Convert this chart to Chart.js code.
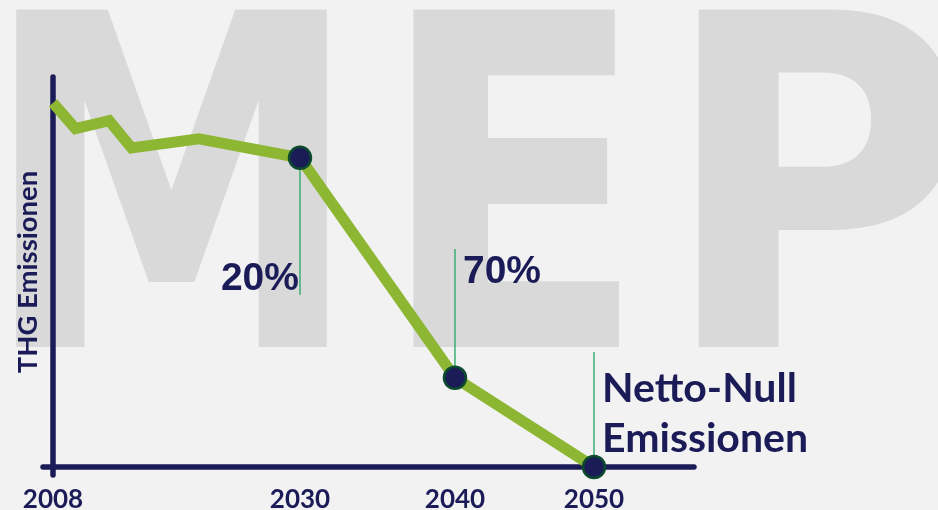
<!DOCTYPE html>
<html>
<head>
<meta charset="utf-8">
<script src="https://cdn.jsdelivr.net/npm/chart.js@4.4.0/dist/chart.umd.min.js"></script>
<style>
  html, body { margin: 0; padding: 0; background: #f2f2f2; }
</style>
</head>
<body>
<canvas id="thgChart" width="938" height="510"></canvas>
<script>
// DATA
const years = [2008, 2010, 2013, 2015, 2021, 2030, 2040, 2050];
const emissions = [100, 92.9, 95.1, 87.6, 90.1, 84.9, 24.5, 0];
const tickYears = [2008, 2030, 2040, 2050];
const markerYears = [2030, 2040, 2050];
const markerValues = [84.9, 24.5, 0];
const noteEnds = [47.3, 59.9, 31.6];
const noteTexts = [['20%'], ['70%'], ['Netto-Null', 'Emissionen']];

const navy = '#1b1c57';
const green = '#8db733';

// x-Achse ist im Original nicht linear -> Stueckweise Skala
class StueckScale extends Chart.LinearScale {
    getPixelForValue(v) {
        const yrs = [2008, 2030, 2040, 2050, 2057.4];
        const fr = [0, 0.3853, 0.6271, 0.8440, 1];
        let i = 0;
        while (i < yrs.length - 2 && v > yrs[i + 1]) i++;
        const f = fr[i] + (v - yrs[i]) / (yrs[i + 1] - yrs[i]) * (fr[i + 1] - fr[i]);
        return this.left + f * this.width;
    }
    getValueForPixel(p) {
        const yrs = [2008, 2030, 2040, 2050, 2057.4];
        const fr = [0, 0.3853, 0.6271, 0.8440, 1];
        const f = (p - this.left) / this.width;
        let i = 0;
        while (i < fr.length - 2 && f > fr[i + 1]) i++;
        return yrs[i] + (f - fr[i]) / (fr[i + 1] - fr[i]) * (yrs[i + 1] - yrs[i]);
    }
}
StueckScale.id = 'stueck';
StueckScale.defaults = Chart.LinearScale.defaults;
Chart.register(StueckScale);

// Hintergrund + MEP Wasserzeichen
function drawLetter(ctx, ch, left, right, top, bottom) {
    ctx.font = 'bold 400px "DejaVu Sans"';
    const m = ctx.measureText(ch);
    const w = m.actualBoundingBoxLeft + m.actualBoundingBoxRight;
    const h = m.actualBoundingBoxAscent;
    ctx.save();
    ctx.translate(left, bottom);
    ctx.scale((right - left) / w, (bottom - top) / h);
    ctx.fillText(ch, m.actualBoundingBoxLeft, 0);
    ctx.restore();
}

const backgroundPlugin = {
    id: 'background',
    beforeDraw(chart) {
        const ctx = chart.ctx;
        ctx.save();
        ctx.fillStyle = '#f2f2f2';
        ctx.fillRect(0, 0, chart.width, chart.height);
        ctx.fillStyle = '#d9d9d9';
        ctx.textAlign = 'left';
        ctx.textBaseline = 'alphabetic';
        drawLetter(ctx, 'M', 11, 328, 7, 347);
        drawLetter(ctx, 'E', 408, 625, 7, 347);
        drawLetter(ctx, 'P', 693, 958, 7, 347);
        ctx.restore();
    }
};

// Achsenlinien mit runden Enden
const axisPlugin = {
    id: 'axisLines',
    beforeDatasetsDraw(chart) {
        const {ctx, chartArea} = chart;
        ctx.save();
        ctx.strokeStyle = navy;
        ctx.lineWidth = 5.5;
        ctx.lineCap = 'round';
        ctx.beginPath();
        ctx.moveTo(chartArea.left, chartArea.top);
        ctx.lineTo(chartArea.left, chartArea.bottom + 8);
        ctx.moveTo(chartArea.left - 10, chartArea.bottom);
        ctx.lineTo(chartArea.right, chartArea.bottom);
        ctx.stroke();
        ctx.restore();
    }
};

// Beschriftungen 20% / 70% / Netto-Null
const notePlugin = {
    id: 'notes',
    afterDatasetsDraw(chart) {
        const ctx = chart.ctx;
        const xs = chart.scales.x, ys = chart.scales.y;
        ctx.save();
        ctx.fillStyle = navy;
        ctx.textBaseline = 'alphabetic';

        let x = xs.getPixelForValue(markerYears[0]);
        ctx.font = 'bold 39px "Liberation Sans"';
        ctx.textAlign = 'right';
        ctx.fillText(noteTexts[0][0], x - 1, ys.getPixelForValue(48.6));

        x = xs.getPixelForValue(markerYears[1]);
        ctx.textAlign = 'left';
        ctx.fillText(noteTexts[1][0], x + 8, ys.getPixelForValue(50.5));

        x = xs.getPixelForValue(markerYears[2]);
        ctx.font = 'bold 41px Lato';
        const y0 = ys.getPixelForValue(17.9);
        noteTexts[2].forEach((t, i) => ctx.fillText(t, x + 8, y0 + i * 50));
        ctx.restore();
    }
};

const noteLines = markerYears.map((yr, i) => ({
    data: [{x: yr, y: markerValues[i]}, {x: yr, y: noteEnds[i]}],
    borderColor: '#3aae74',
    borderWidth: 1.5,
    pointRadius: 0,
    clip: false
}));

const ctx = document.getElementById('thgChart').getContext('2d');
const thgChart = new Chart(ctx, {
    type: 'line',
    data: {
        datasets: [
            {
                data: markerYears.map((yr, i) => ({x: yr, y: markerValues[i]})),
                showLine: false,
                pointRadius: 11,
                pointBorderWidth: 2.5,
                pointBackgroundColor: navy,
                pointBorderColor: '#0b4a2c',
                clip: false
            },
            ...noteLines,
            {
                data: years.map((yr, i) => ({x: yr, y: emissions[i]})),
                borderColor: green,
                borderWidth: 11,
                borderJoinStyle: 'miter',
                borderCapStyle: 'butt',
                tension: 0,
                pointRadius: 0,
                clip: false
            }
        ]
    },
    options: {
        responsive: false,
        animation: false,
        layout: { padding: { left: 0, top: 77, right: 244, bottom: 0 } },
        plugins: { legend: { display: false }, tooltip: { enabled: false } },
        scales: {
            x: {
                type: 'stueck',
                min: 2008,
                max: 2057.4,
                grid: { display: false, drawTicks: false },
                border: { display: false },
                afterBuildTicks: (s) => { s.ticks = tickYears.map(v => ({value: v})); },
                afterFit: (s) => { s.height = 43; },
                ticks: {
                    autoSkip: false,
                    maxRotation: 0,
                    padding: 19.5,
                    color: navy,
                    font: { family: 'Lato', weight: 'bold', size: 26, lineHeight: 1 },
                    callback: (v) => String(v)
                }
            },
            y: {
                type: 'linear',
                min: 0,
                max: 107.1,
                grid: { display: false, drawTicks: false },
                border: { display: false },
                ticks: { display: false },
                title: {
                    display: true,
                    text: 'THG Emissionen',
                    color: navy,
                    font: { family: 'Lato', weight: 'bold', size: 27.5 },
                    padding: { top: 11.5, bottom: 8.5 }
                }
            }
        }
    },
    plugins: [backgroundPlugin, axisPlugin, notePlugin]
});
</script>
</body>
</html>
